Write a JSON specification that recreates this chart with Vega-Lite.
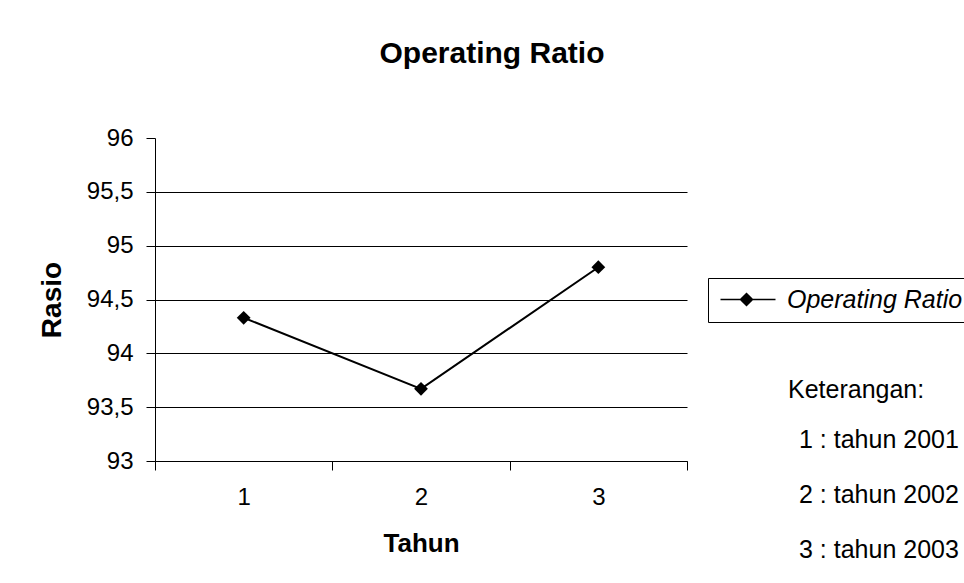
{
  "$schema": "https://vega.github.io/schema/vega-lite/v6.json",
  "width": 532,
  "height": 323,
  "autosize": "none",
  "padding": {"left": 155, "top": 138, "right": 277, "bottom": 122},
  "background": "white",
  "title": {
    "text": "Operating Ratio",
    "font": "Liberation Sans",
    "fontSize": 30,
    "fontWeight": "bold",
    "color": "black",
    "anchor": "middle",
    "frame": "group",
    "dx": 71,
    "baseline": "alphabetic",
    "offset": 33
  },
  "data": {
    "values": [
      {"tahun": 1, "rasio": 94.33, "seri": "Operating Ratio", "ket": "1 : tahun 2001"},
      {"tahun": 2, "rasio": 93.67, "seri": "Operating Ratio", "ket": "2 : tahun 2002"},
      {"tahun": 3, "rasio": 94.8, "seri": "Operating Ratio", "ket": "3 : tahun 2003"}
    ]
  },
  "config": {
    "view": {"stroke": null},
    "font": "Liberation Sans",
    "axis": {
      "labelFont": "Liberation Sans",
      "labelColor": "black",
      "titleFont": "Liberation Sans",
      "titleColor": "black",
      "titleFontWeight": "bold",
      "domainColor": "black",
      "domainWidth": 1,
      "tickColor": "black",
      "tickWidth": 1,
      "gridColor": "black",
      "gridWidth": 1
    }
  },
  "encoding": {
    "x": {
      "field": "tahun",
      "type": "quantitative",
      "scale": {"domain": [0.5, 3.5], "nice": false, "zero": false},
      "axis": {
        "title": "Tahun",
        "titleFontSize": 26,
        "titlePadding": 21,
        "values": [0.5, 1, 1.5, 2, 2.5, 3, 3.5],
        "labelExpr": "datum.value % 1 == 0 ? format(datum.value, 'd') : ''",
        "labelFontSize": 24,
        "labelPadding": 15,
        "labelOverlap": false,
        "labelFlush": false,
        "labelBound": false,
        "tickSize": 9,
        "tickOpacity": {"condition": {"test": "datum.value % 1 == 0", "value": 0}, "value": 1},
        "grid": false
      }
    },
    "y": {
      "field": "rasio",
      "type": "quantitative",
      "scale": {"domain": [93, 96], "nice": false, "zero": false},
      "axis": {
        "title": "Rasio",
        "titleFontSize": 28,
        "titlePadding": 20,
        "values": [93, 93.5, 94, 94.5, 95, 95.5, 96],
        "labelExpr": "replace(format(datum.value, '.1~f'), '.', ',')",
        "labelFontSize": 24,
        "labelPadding": 13,
        "tickSize": 9,
        "grid": true,
        "gridOpacity": {"condition": {"test": "datum.value >= 96", "value": 0}, "value": 1}
      }
    }
  },
  "layer": [
    {
      "mark": {"type": "line", "color": "black", "strokeWidth": 2},
      "encoding": {
        "color": {
          "field": "seri",
          "type": "nominal",
          "scale": {"range": ["black"]},
          "legend": {
            "orient": "none",
            "legendX": 553,
            "legendY": 140,
            "title": null,
            "strokeColor": "black",
            "padding": 9,
            "symbolType": "M-0.9,0L4.6,0M1.7,-0.6L2.3,0L1.7,0.6L1.1,0Z",
            "symbolSize": 400,
            "symbolStrokeWidth": 1.5,
            "labelFont": "Liberation Sans",
            "labelFontSize": 25,
            "labelFontStyle": "italic",
            "labelColor": "black",
            "labelOffset": 45,
            "labelLimit": 400,
            "encode": {
              "symbols": {"update": {"fill": {"value": "black"}, "stroke": {"value": "black"}, "opacity": {"value": 1}}}
            }
          }
        }
      }
    },
    {
      "mark": {"type": "point", "shape": "diamond", "filled": true, "size": 190, "color": "black", "opacity": 1}
    },
    {
      "mark": {"type": "point", "opacity": 0},
      "encoding": {
        "shape": {
          "field": "ket",
          "type": "nominal",
          "legend": {
            "orient": "none",
            "legendX": 633,
            "legendY": 240,
            "title": "Keterangan:",
            "titleFont": "Liberation Sans",
            "titleFontSize": 25,
            "titleFontWeight": "normal",
            "titleColor": "black",
            "titlePadding": 24,
            "symbolOpacity": 0,
            "symbolSize": 1,
            "labelFont": "Liberation Sans",
            "labelFontSize": 25,
            "labelColor": "black",
            "labelOffset": -14,
            "labelLimit": 400,
            "rowPadding": 29,
            "padding": 0
          }
        }
      }
    }
  ]
}
